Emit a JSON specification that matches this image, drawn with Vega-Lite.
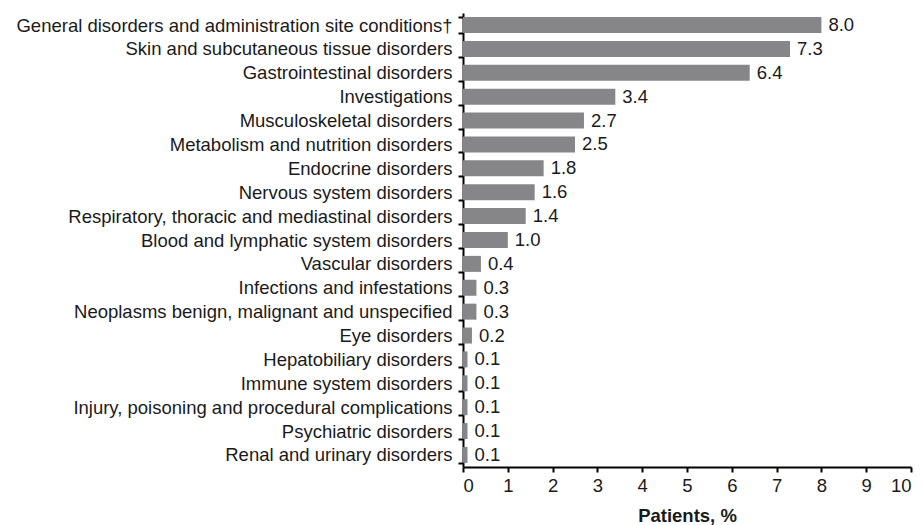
{
  "$schema": "https://vega.github.io/schema/vega-lite/v6.json",
  "autosize": "none",
  "width": 448,
  "height": 454,
  "padding": {"left": 463, "top": 13, "right": 12, "bottom": 58},
  "background": "white",
  "config": {
    "view": {"stroke": null},
    "font": "Liberation Sans"
  },
  "data": {
    "values": [
      {"category": "General disorders and administration site conditions†", "value": 8.0},
      {"category": "Skin and subcutaneous tissue disorders", "value": 7.3},
      {"category": "Gastrointestinal disorders", "value": 6.4},
      {"category": "Investigations", "value": 3.4},
      {"category": "Musculoskeletal disorders", "value": 2.7},
      {"category": "Metabolism and nutrition disorders", "value": 2.5},
      {"category": "Endocrine disorders", "value": 1.8},
      {"category": "Nervous system disorders", "value": 1.6},
      {"category": "Respiratory, thoracic and mediastinal disorders", "value": 1.4},
      {"category": "Blood and lymphatic system disorders", "value": 1.0},
      {"category": "Vascular disorders", "value": 0.4},
      {"category": "Infections and infestations", "value": 0.3},
      {"category": "Neoplasms benign, malignant and unspecified", "value": 0.3},
      {"category": "Eye disorders", "value": 0.2},
      {"category": "Hepatobiliary disorders", "value": 0.1},
      {"category": "Immune system disorders", "value": 0.1},
      {"category": "Injury, poisoning and procedural complications", "value": 0.1},
      {"category": "Psychiatric disorders", "value": 0.1},
      {"category": "Renal and urinary disorders", "value": 0.1}
    ]
  },
  "encoding": {
    "y": {
      "field": "category",
      "type": "nominal",
      "sort": null,
      "scale": {"paddingInner": 0.33, "paddingOuter": 0.17},
      "axis": {
        "title": null,
        "tickBand": "extent",
        "labelLimit": 0,
        "labelFontSize": 18.5,
        "labelColor": "#1a1a1a",
        "labelPadding": 6,
        "tickSize": 5,
        "tickColor": "black",
        "domainColor": "black",
        "tickWidth": 2,
        "domainWidth": 2
      }
    },
    "x": {
      "field": "value",
      "type": "quantitative",
      "scale": {"domain": [0, 10], "nice": false},
      "axis": {
        "title": "Patients, %",
        "titleFontSize": 18.5,
        "titleFontWeight": "bold",
        "titleColor": "#1a1a1a",
        "titlePadding": 12,
        "values": [0, 1, 2, 3, 4, 5, 6, 7, 8, 9, 10],
        "grid": false,
        "labelFontSize": 18.5,
        "labelColor": "#1a1a1a",
        "labelPadding": 4,
        "tickSize": 5,
        "tickColor": "black",
        "domainColor": "black",
        "tickWidth": 2,
        "domainWidth": 2
      }
    }
  },
  "layer": [
    {"mark": {"type": "bar", "color": "#868689"}},
    {
      "mark": {"type": "text", "align": "left", "dx": 7, "fontSize": 18.5, "color": "#1a1a1a"},
      "encoding": {"text": {"field": "value", "type": "quantitative", "format": ".1f"}}
    }
  ]
}
